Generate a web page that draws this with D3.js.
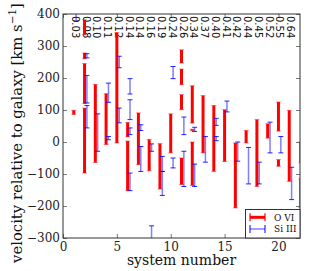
<!DOCTYPE html>
<html lang="en">
<head>
<meta charset="utf-8">
<title>velocity offsets</title>
<script src="https://cdnjs.cloudflare.com/ajax/libs/d3/7.8.5/d3.min.js"></script>
<style>
	body { margin: 0; background: #fff; }
	.tick text { font-family: "DejaVu Serif", serif; font-size: 12px; fill: #222; }
	.tick line { stroke: #777; stroke-width: 1px; }
</style>
</head>
<body>
<div id="chart"></div>
<script>
// redshift label drawn above each system
var zLabels = ["0.03","0.08","0.10","0.11","0.12","0.14","0.14","0.16","0.19","0.24",
	"0.26","0.34","0.37","0.40","0.41","0.42","0.44","0.45","0.52","0.55","0.64"];

// [system, low, high] velocity ranges, km/s
var oviBars = [
	[1,86,99],
	[2,335,382],[2,260,278],[2,120,245],[2,-97,106],
	[3,-64,180],
	[4,-8,151],
	[5,-3,342],
	[6,16,61],[6,-152,3],
	[7,-71,91],
	[8,-90,8],
	[9,-147,-5],
	[10,-34,88],
	[11,247,288],[11,179,228],[11,101,148],[11,-133,-50],
	[12,59,176],[12,35,40],[12,-136,0],
	[13,-34,145],
	[14,-92,114],
	[15,-61,101],
	[16,-206,-3],
	[17,-3,36],
	[18,-139,70],
	[19,12,57],
	[20,34,125],[20,-76,-55],
	[21,-123,99],
	[22.08,-65,0],[22.08,-205,-115]
];
var siBars = [
	[1,377,420],
	[2,263,276],[2,122,208],[2,44,114],
	[3,-29,88],
	[4,124,184],[4,7,17],
	[5,232,268],[5,60,106],
	[6,150,198],[6,70,132],[6,23,44],[6,-152,-97],
	[7,36,54],[7,-92,-14],
	[8,-29,-6],[8,-320,-262],
	[9,-92,-45],[9,-167,-92],
	[10,198,236],[10,-81,-50],
	[11,23,78],[11,-139,-29],
	[12,33,46],[12,-139,-69],
	[13,-63,17],
	[14,52,74],[14,4,17],
	[15,94,128],
	[16,-60,0],
	[17,-131,-17],
	[18,-131,-63],
	[19,-34,62],
	[20,-34,17],
	[21,-180,-79]
];
var xTicks = [0,5,10,15,20];
var yTicks = [-300,-200,-100,0,100,200,300,400];

var W = 316, H = 271;
var pL = 63, pR = 300, pT = 14, pB = 238;
var siShift = 0.22;

var x = d3.scaleLinear().domain([0,22]).range([pL,pR]);
var y = d3.scaleLinear().domain([-300,400]).range([pB,pT]);

var svg = d3.select("#chart").append("svg")
	.attr("width",W).attr("height",H);

svg.append("defs").append("clipPath").attr("id","plotclip")
	.append("rect").attr("x",pL).attr("y",pT)
	.attr("width",pR-pL).attr("height",pB-pT);

// axes, ticks point inward
var gL = svg.append("g").attr("transform","translate("+pL+",0)")
	.call(d3.axisLeft(y).tickValues(yTicks).tickSize(-4).tickPadding(3));
var gB = svg.append("g").attr("transform","translate(0,"+pB+")")
	.call(d3.axisBottom(x).tickValues(xTicks).tickSize(-4).tickPadding(4));
var gT = svg.append("g").attr("transform","translate(0,"+pT+")")
	.call(d3.axisTop(x).tickValues(xTicks).tickSize(-4).tickFormat(""));
var gR = svg.append("g").attr("transform","translate("+pR+",0)")
	.call(d3.axisRight(y).tickValues(yTicks).tickSize(-4).tickFormat(""));
[gL,gB,gT,gR].forEach(function(g){ g.select(".domain").remove(); });
gL.selectAll("text").text(function(d){ return d<0 ? "\u2212"+(-d) : d; });

var plot = svg.append("g").attr("clip-path","url(#plotclip)");

// redshift labels along the top
plot.selectAll(".zlab").data(zLabels).enter().append("text")
	.attr("class","zlab")
	.attr("transform",function(d,i){ return "translate("+(x(i+1)+1.5)+","+(pT+2)+") rotate(90)"; })
	.attr("dominant-baseline","central")
	.attr("font-family","DejaVu Sans, sans-serif")
	.attr("font-size","10px")
	.attr("fill","#111")
	.text(function(d){ return d; });

function drawBars(data, shift, lineCol, lineW, lineOp, capCol, capOp){
	var g = plot.append("g");
	var b = g.selectAll("g").data(data).enter().append("g");
	b.append("line")
		.attr("x1",function(d){ return x(d[0]+shift); })
		.attr("x2",function(d){ return x(d[0]+shift); })
		.attr("y1",function(d){ return y(d[1]); })
		.attr("y2",function(d){ return y(d[2]); })
		.attr("stroke",lineCol).attr("stroke-width",lineW).attr("stroke-opacity",lineOp);
	[1,2].forEach(function(k){
		b.append("line")
			.attr("x1",function(d){ return x(d[0]+shift)-2.5; })
			.attr("x2",function(d){ return x(d[0]+shift)+2.5; })
			.attr("y1",function(d){ return y(d[k]); })
			.attr("y2",function(d){ return y(d[k]); })
			.attr("stroke",capCol).attr("stroke-width",1).attr("stroke-opacity",capOp);
	});
}
drawBars(oviBars, 0, "#ff0000", 3, 1, "#ff0000", 0.45);
drawBars(siBars, siShift, "#0000ff", 1.5, 0.5, "#0000ff", 0.85);

// frame
svg.append("rect").attr("x",pL).attr("y",pT)
	.attr("width",pR-pL).attr("height",pB-pT)
	.attr("fill","none").attr("stroke","#333").attr("stroke-width",1);

// legend
var lg = svg.append("g");
lg.append("rect").attr("x",245.5).attr("y",209.5).attr("width",54.5).attr("height",28.5)
	.attr("fill","#fff").attr("stroke","#333").attr("stroke-width",1);
var legItems = [
	{name:"O VI", col:"#ff0000", w:3, op:1, capOp:1, cy:217.3},
	{name:"Si III", col:"#0000ff", w:1.5, op:0.5, capOp:0.85, cy:229}
];
legItems.forEach(function(it){
	lg.append("line").attr("x1",250).attr("x2",265).attr("y1",it.cy).attr("y2",it.cy)
		.attr("stroke",it.col).attr("stroke-width",it.w).attr("stroke-opacity",it.op);
	[250,265].forEach(function(cx){
		lg.append("line").attr("x1",cx).attr("x2",cx).attr("y1",it.cy-4).attr("y2",it.cy+4)
			.attr("stroke",it.col).attr("stroke-width",1.2).attr("stroke-opacity",it.capOp);
	});
	lg.append("text").attr("x",274).attr("y",it.cy+3.2)
		.attr("font-family","DejaVu Serif, serif").attr("font-size","9px").attr("fill","#111")
		.text(it.name);
});

// axis titles
svg.append("text")
	.attr("x",(pL+pR)/2).attr("y",265)
	.attr("text-anchor","middle")
	.attr("font-family","DejaVu Serif, serif").attr("font-size","14px").attr("fill","#111")
	.text("system number");

var yl = svg.append("text")
	.attr("transform","translate(21.5,133) rotate(-90)")
	.attr("text-anchor","middle")
	.attr("font-family","DejaVu Serif, serif").attr("font-size","14.8px").attr("fill","#111");
yl.append("tspan").text("velocity relative to galaxy [km s");
yl.append("tspan").attr("font-size","10.5px").attr("dy","-0.5em").text("\u22121");
yl.append("tspan").attr("dy","0.36em").text("]");
</script>
</body>
</html>
